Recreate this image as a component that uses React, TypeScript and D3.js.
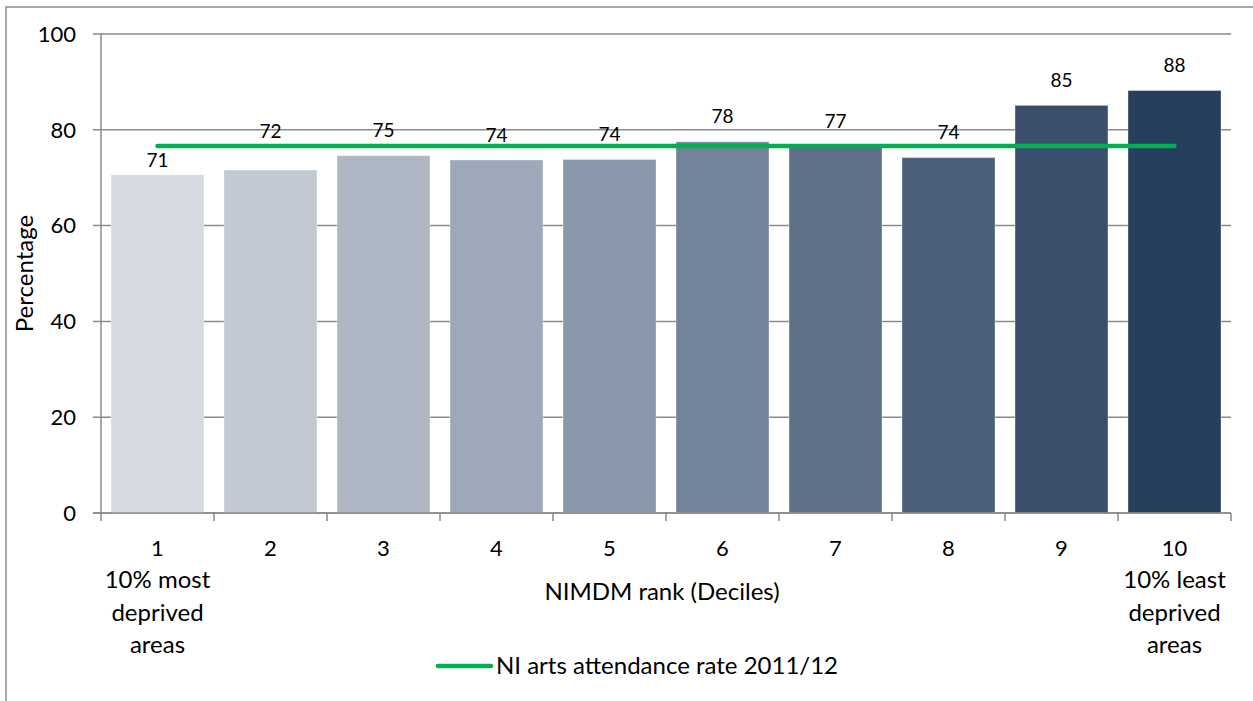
import React from "react";
import * as d3 from "d3";

// Arts attendance by NIMDM decile
const deciles = ["1", "2", "3", "4", "5", "6", "7", "8", "9", "10"];
const attendance = [70.6, 71.6, 74.6, 73.7, 73.8, 77.5, 76.6, 74.2, 85.1, 88.2];
const barColors = [
  "#d6dbe2", "#c3c9d3", "#aeb8c4", "#9da9b8", "#8a97aa",
  "#738399", "#5f7189", "#4c5f7a", "#3b4f6d", "#273f5f",
];
// vertical nudges (px) for value labels that were moved off the default spot
const labelNudge = [11, -14, 0, 0, 0, 0, 0, 0, 0, 0];
const niRate = 76.6;
const yTicks = [0, 20, 40, 60, 80, 100];
const subLabels: Record<string, string[]> = {
  "1": ["10% most", "deprived", "areas"],
  "10": ["10% least", "deprived", "areas"],
};

const W = 1253;
const H = 701;
const FONT = "Lato, 'Open Sans', sans-serif";
const NUM = 22;
const TXT = 24;

export default function App() {
  const x = d3
    .scaleBand<string>()
    .domain(deciles)
    .range([101, 1231])
    .paddingInner(0.177)
    .paddingOuter(0.0885);
  const y = d3.scaleLinear().domain([0, 100]).range([513, 34]);
  const step = x.step();
  const bounds = d3.range(deciles.length + 1).map((i) => 101 + i * step);
  const lineGen = d3
    .line<string>()
    .x((d) => (x(d) as number) + x.bandwidth() / 2)
    .y(() => y(niRate));

  return (
    <svg
      width={W}
      height={H}
      style={{ position: "absolute", left: 0, top: 0, background: "#fff" }}
      fontFamily={FONT}
    >
      <rect x={6} y={7} width={W + 10} height={H + 10} fill="#fff" stroke="#8c8c8c" strokeWidth={1.5} />

      {/* gridlines */}
      {yTicks.map((t) => (
        <line key={t} x1={93} x2={1231} y1={y(t)} y2={y(t)} stroke="#8a8a8a" strokeWidth={1.5} />
      ))}
      {yTicks.map((t) => (
        <text key={"l" + t} x={76} y={y(t)} dy="0.35em" textAnchor="end" fontSize={NUM} fill="#000">
          {t}
        </text>
      ))}

      {/* bars */}
      {deciles.map((d, i) => (
        <rect
          key={d}
          x={x(d)}
          y={y(attendance[i])}
          width={x.bandwidth()}
          height={y(0) - y(attendance[i])}
          fill={barColors[i]}
          stroke="#ffffff"
          strokeOpacity={0.35}
          strokeWidth={1}
        />
      ))}

      {/* axes */}
      <line x1={101} x2={101} y1={34} y2={513} stroke="#8a8a8a" strokeWidth={1.5} />
      <line x1={93} x2={1231} y1={513} y2={513} stroke="#8a8a8a" strokeWidth={1.5} />
      {bounds.map((b, i) => (
        <line key={i} x1={b} x2={b} y1={513} y2={521} stroke="#8a8a8a" strokeWidth={1.5} />
      ))}

      {/* NI average line */}
      <path d={lineGen(deciles) ?? ""} stroke="#00b050" strokeWidth={4.5} strokeLinecap="round" fill="none" />

      {/* value labels */}
      {deciles.map((d, i) => (
        <text
          key={"v" + d}
          x={(x(d) as number) + x.bandwidth() / 2}
          y={y(attendance[i]) - 25 + labelNudge[i]}
          dy="0.35em"
          textAnchor="middle"
          fontSize={19}
          fill="#000"
        >
          {d3.format(".0f")(attendance[i])}
        </text>
      ))}

      {/* category labels */}
      {deciles.map((d) => {
        const cx = (x(d) as number) + x.bandwidth() / 2;
        return (
          <g key={"c" + d}>
            <text x={cx} y={548} dy="0.35em" textAnchor="middle" fontSize={NUM} fill="#000">
              {d}
            </text>
            {(subLabels[d] || []).map((s, j) => (
              <text key={j} x={cx} y={580 + j * 32.5} dy="0.35em" textAnchor="middle" fontSize={TXT} fill="#000">
                {s}
              </text>
            ))}
          </g>
        );
      })}

      <text x={662} y={592} dy="0.35em" textAnchor="middle" fontSize={TXT} fill="#000">
        NIMDM rank (Deciles)
      </text>
      <text
        transform={`translate(25,${(y(0) + y(100)) / 2}) rotate(-90)`}
        dy="0.35em"
        textAnchor="middle"
        fontSize={TXT}
        fill="#000"
      >
        Percentage
      </text>

      {/* legend */}
      <line x1={438} x2={491} y1={666} y2={666} stroke="#00b050" strokeWidth={4.5} strokeLinecap="round" />
      <text x={496} y={666} dy="0.35em" fontSize={TXT} fill="#000">
        NI arts attendance rate 2011/12
      </text>
    </svg>
  );
}
